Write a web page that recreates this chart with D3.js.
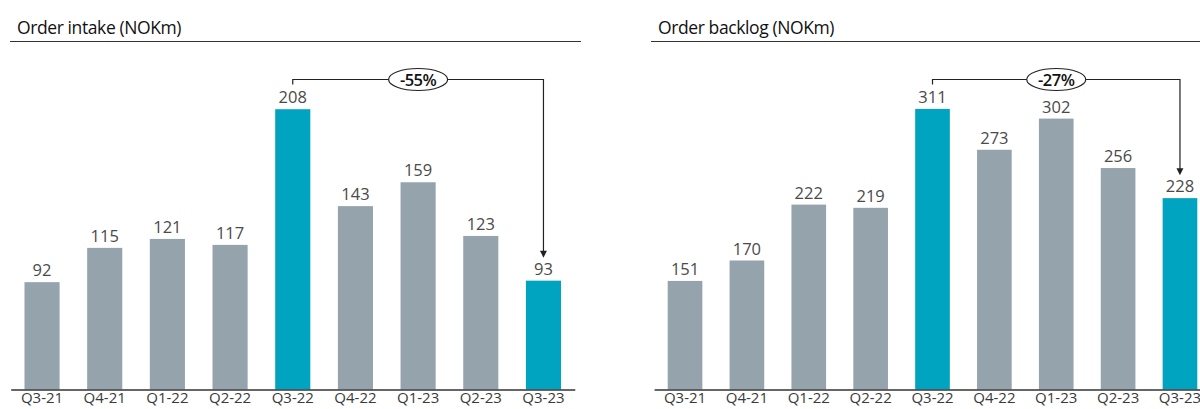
<!DOCTYPE html>
<html>
<head>
<meta charset="utf-8">
<script src="https://cdn.jsdelivr.net/npm/d3@7"></script>
<style>
  html, body { margin: 0; padding: 0; background: #fff; }
  svg { display: block; }
</style>
</head>
<body>
<svg id="chart" width="1200" height="409"></svg>
<script>
const categories = ["Q3-21","Q4-21","Q1-22","Q2-22","Q3-22","Q4-22","Q1-23","Q2-23","Q3-23"];
const orderIntake = [92, 115, 121, 117, 208, 143, 159, 123, 93];
const orderBacklog = [151, 170, 222, 219, 311, 273, 302, 256, 228];
const highlighted = ["Q3-22", "Q3-23"];
const titles = ["Order intake (NOKm)", "Order backlog (NOKm)"];
const changeLabels = ["-55%", "-27%"];

const GREY = "#95a3ac";
const TEAL = "#00a3c0";
const FONT = "'Open Sans', 'Noto Sans', sans-serif";

const svg = d3.select("#chart");

const panels = [
  { title: titles[0], values: orderIntake, change: changeLabels[0],
    xRange: [10.7, 574.8], yDomain: [20, 250], lineX: [10, 581], titleX: 17 },
  { title: titles[1], values: orderBacklog, change: changeLabels[1],
    xRange: [654.1, 1210.9], yDomain: [50, 370], lineX: [651, 1200], titleX: 658 }
];

const baseY = 389.5, topY = 46.6;

panels.forEach((p, pi) => {
  const g = svg.append("g");
  const x = d3.scaleBand().domain(categories).range(p.xRange).paddingInner(0.44).paddingOuter(0.22);
  const y = d3.scaleLinear().domain(p.yDomain).range([baseY, pi === 0 ? topY : 45.5]);

  // title
  g.append("text")
    .attr("x", p.titleX).attr("y", 34)
    .attr("font-family", FONT).attr("font-size", 17.5).attr("font-weight", 500)
    .attr("letter-spacing", -0.4)
    .attr("fill", "#111")
    .text(p.title);
  g.append("line")
    .attr("x1", p.lineX[0]).attr("x2", p.lineX[1])
    .attr("y1", 41.5).attr("y2", 41.5)
    .attr("stroke", "#333").attr("stroke-width", 1.2);

  // bars
  const data = categories.map((c, i) => ({ c, v: p.values[i] }));
  g.selectAll("rect.bar").data(data).enter().append("rect")
    .attr("class", "bar")
    .attr("x", d => x(d.c))
    .attr("width", x.bandwidth())
    .attr("y", d => y(d.v))
    .attr("height", d => baseY - y(d.v))
    .attr("fill", d => highlighted.includes(d.c) ? TEAL : GREY);

  // value labels
  g.selectAll("text.val").data(data).enter().append("text")
    .attr("class", "val")
    .attr("x", d => x(d.c) + x.bandwidth() / 2)
    .attr("y", d => y(d.v) - 6)
    .attr("text-anchor", "middle")
    .attr("font-family", FONT).attr("font-size", 16.5).attr("font-weight", 400)
    .attr("fill", "#4a4a4a")
    .text(d => d.v);

  // x axis
  const axis = g.append("g")
    .attr("transform", `translate(0,${baseY})`)
    .call(d3.axisBottom(x).tickSize(0).tickSizeOuter(0).tickPadding(3));
  axis.select(".domain").attr("stroke", "#333").attr("stroke-width", 1.5);
  axis.selectAll("text")
    .attr("font-family", FONT).attr("font-size", 15).attr("font-weight", 400)
    .attr("fill", "#3a3a3a");

  // change annotation
  const from = highlighted[0], to = highlighted[1];
  const vTo = p.values[categories.indexOf(to)];
  const x1 = x(from) + x.bandwidth() / 2;
  const x2 = x(to) + x.bandwidth() / 2;
  const yLine = 79.5;
  const yEnd = y(vTo) - 23;
  g.append("path")
    .attr("d", `M${x1},${yLine + 5}V${yLine}H${x2}V${yEnd - 6}`)
    .attr("fill", "none").attr("stroke", "#222").attr("stroke-width", 1.2);
  g.append("path")
    .attr("d", `M${x2 - 3.5},${yEnd - 7}L${x2 + 3.5},${yEnd - 7}L${x2},${yEnd}Z`)
    .attr("fill", "#222");
  const cx = (x1 + x2) / 2;
  g.append("ellipse")
    .attr("cx", cx).attr("cy", yLine)
    .attr("rx", 29.5).attr("ry", 11)
    .attr("fill", "#fff").attr("stroke", "#222").attr("stroke-width", 1.2);
  g.append("text")
    .attr("x", cx).attr("y", yLine + 6)
    .attr("text-anchor", "middle")
    .attr("font-family", FONT).attr("font-size", 16.5).attr("font-weight", 600)
    .attr("letter-spacing", -0.5)
    .attr("fill", "#111")
    .text(p.change);
});
</script>
</body>
</html>
